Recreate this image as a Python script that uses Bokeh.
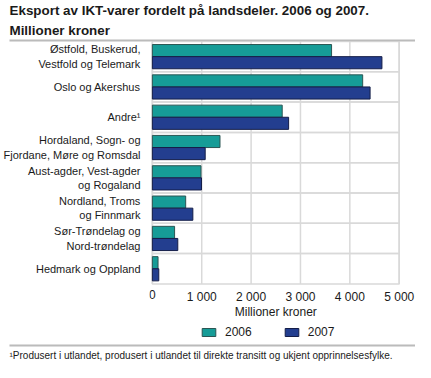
from bokeh.plotting import figure
from bokeh.models import (FactorRange, Range1d, Legend, LegendItem,
                          ColumnDataSource, Title, ColorBar, LinearColorMapper, FixedTicker)
from bokeh.transform import dodge
from bokeh.core.properties import value
from bokeh.embed import file_html
from bokeh.resources import INLINE

# ---- data ----
categories = [
    "Østfold, Buskerud,\nVestfold og Telemark",
    "Oslo og Akershus",
    "Andre¹",
    "Hordaland, Sogn- og\nFjordane, Møre og Romsdal",
    "Aust-agder, Vest-agder\nog Rogaland",
    "Nordland, Troms\nog Finnmark",
    "Sør-Trøndelag og\nNord-trøndelag",
    "Hedmark og Oppland",
]
values_2006 = [3630, 4260, 2630, 1370, 985, 675, 450, 115]
values_2007 = [4650, 4410, 2760, 1070, 995, 820, 515, 130]
series_names = ["2006", "2007"]
tick_values = [0, 1000, 2000, 3000, 4000, 5000]
tick_labels = ["0", "1 000", "2 000", "3 000", "4 000", "5 000"]
title_lines = ["Eksport av IKT-varer fordelt på landsdeler. 2006 og 2007.", "Millioner kroner"]
x_axis_title = "Millioner kroner"
footnote_text = "¹Produsert i utlandet, produsert i utlandet til direkte transitt og ukjent opprinnelsesfylke."

FONT = "Liberation Sans"
TEXT = "#1a1a1a"
GRID = "#d9d9d9"
RULE = "#bbbbbb"
TEAL = "#169c97"
NAVY = "#233e8f"
W, H = 415, 362
LEFT, RIGHT, TOP, BOTTOM = 140, 0, 41, 16
BLANK = ["  ", " "]          # space below the categories for tick labels and legend

y_range = FactorRange(*(BLANK + list(reversed(categories))))
x_range = Range1d(-58, 5330)

p = figure(width=W, height=H, y_range=y_range, x_range=x_range,
           output_backend="svg", toolbar_location=None,
           min_border_left=LEFT, min_border_right=RIGHT,
           min_border_top=TOP, min_border_bottom=BOTTOM)
p.outline_line_color = None
p.grid.visible = False
p.xaxis.visible = False


def rule():
    return ColorBar(color_mapper=LinearColorMapper(palette=[RULE], low=0, high=1),
                    orientation="horizontal", width=W, height=2, padding=0, margin=0,
                    location=(-LEFT, 0), ticker=FixedTicker(ticks=[]),
                    major_tick_line_color=None, minor_tick_line_color=None,
                    major_label_text_font_size="1px", bar_line_color=None,
                    border_line_color=None, background_fill_alpha=0)


# header: rule nearest the frame, then 2nd title line, then the main title
p.add_layout(rule(), "above")
t2 = Title(text=title_lines[1], align="left", offset=-LEFT, standoff=4,
           text_font=FONT, text_font_size="13.4px", text_font_style="bold", text_color=TEXT)
p.add_layout(t2, "above")
p.title.text = title_lines[0]
p.title.align = "left"
p.title.offset = -LEFT
p.title.standoff = 1
p.title.text_font = FONT
p.title.text_font_size = "13.4px"
p.title.text_font_style = "bold"
p.title.text_color = TEXT

src = ColumnDataSource(dict(cat=categories, v2006=values_2006, v2007=values_2007,
                            zero=[tick_values[0]] * len(categories),
                            full=[tick_values[-1]] * len(categories)))
grid_src = ColumnDataSource(dict(x=tick_values, lab=tick_labels,
                                 lo=[categories[-1]] * len(tick_values),
                                 hi=[categories[0]] * len(tick_values),
                                 row=[BLANK[1]] * len(tick_values)))

# vertical grid lines over the category area
p.segment(x0="x", x1="x", y0=dodge("lo", -0.5, range=y_range), y1=dodge("hi", 0.5, range=y_range),
          source=grid_src, line_color=GRID, line_width=1.5)
# category separators / box
p.hbar(y="cat", left="zero", right="full", height=1, source=src,
       fill_color=None, line_color=GRID, line_width=1.5)

r1 = p.hbar(y=dodge("cat", 0.2, range=y_range), right="v2006", left="zero", height=0.4,
            source=src, fill_color=TEAL, line_color="#2b5553", line_width=1)
r2 = p.hbar(y=dodge("cat", -0.2, range=y_range), right="v2007", left="zero", height=0.4,
            source=src, fill_color=NAVY, line_color="#141d48", line_width=1)

# x tick labels and axis title
p.text(x="x", y=dodge("row", 0.30, range=y_range), text="lab", source=grid_src,
       text_font=value(FONT), text_font_size="12px", text_color=TEXT,
       text_align="center", text_baseline="top")
axis_src = ColumnDataSource(dict(x=[(tick_values[0] + tick_values[-1]) / 2],
                                 row=[BLANK[1]], lab=[x_axis_title]))
p.text(x="x", y=dodge("row", -0.19, range=y_range), text="lab", source=axis_src,
       text_font=value(FONT), text_font_size="12px", text_color=TEXT,
       text_align="center", text_baseline="top")

ya = p.yaxis[0]
ya.axis_line_color = None
ya.major_tick_line_color = None
ya.minor_tick_line_color = None
ya.major_label_standoff = 3
ya.major_label_text_font = FONT
ya.major_label_text_font_size = "11px"
ya.major_label_text_color = TEXT

legend = Legend(items=[LegendItem(label=series_names[0], renderers=[r1]),
                       LegendItem(label=series_names[1], renderers=[r2])],
                orientation="horizontal", location=(51, 5),
                glyph_width=17, glyph_height=10, label_height=10,
                label_standoff=8, spacing=31, padding=0, margin=0,
                border_line_color=None, background_fill_alpha=0,
                label_text_font=FONT, label_text_font_size="12px",
                label_text_color=TEXT)
p.add_layout(legend, "center")

p.add_layout(rule(), "below")
foot = Title(text=footnote_text, align="left", offset=-LEFT, standoff=3,
             text_font=FONT, text_font_size="10px", text_font_style="normal",
             text_color=TEXT)
p.add_layout(foot, "below")

open("out.html", "w").write(file_html(p, INLINE))
